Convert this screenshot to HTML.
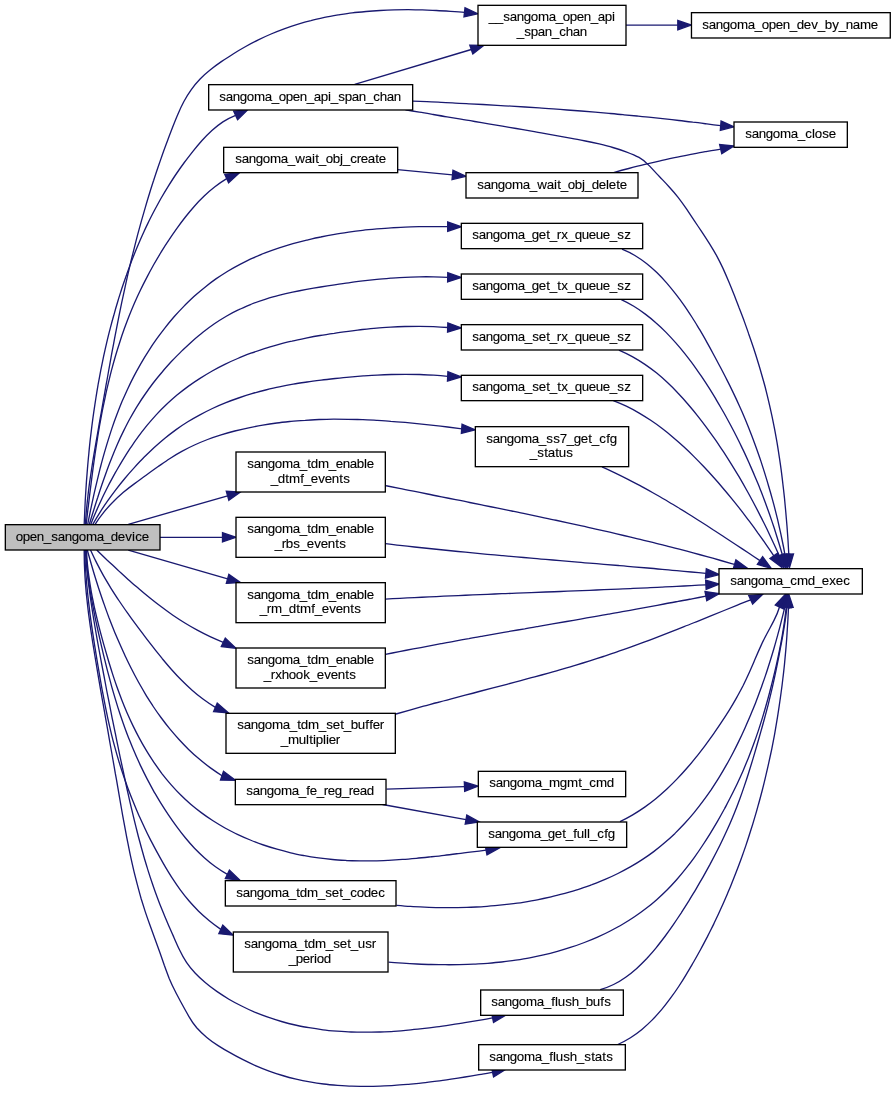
<!DOCTYPE html>
<html><head><meta charset="utf-8"><title>open_sangoma_device call graph</title>
<style>html,body{margin:0;padding:0;background:#fff;}body{width:896px;height:1093px;overflow:hidden;}svg{display:block;}text{font-family:"Liberation Sans",sans-serif;font-size:13.33px;fill:#000;stroke:#000;stroke-width:0.12px;text-anchor:start;}</style></head><body>
<svg width="896" height="1093" viewBox="0 0 896 1093">
<rect x="0" y="0" width="896" height="1093" fill="#fff"/>
<g fill="none" stroke="#191970" stroke-width="1.33">
<path d="M85.4,524.3C85.7,519.6 86.0,514.9 86.4,510.3C86.9,505.6 87.3,501.0 87.9,496.3C88.4,491.6 89.0,487.0 89.6,482.4C90.3,477.7 91.0,473.1 91.7,468.5C92.4,463.8 93.1,459.2 93.9,454.6C94.7,450.0 95.5,445.3 96.3,440.7C97.1,436.1 97.9,431.5 98.7,426.9C99.5,422.3 100.3,417.7 101.2,413.0C102.0,408.4 102.8,403.8 103.6,399.2C104.4,394.6 105.2,390.0 106.0,385.4C106.9,380.8 107.7,376.2 108.5,371.5C109.3,366.9 110.2,362.3 111.0,357.7C111.8,353.1 112.7,348.5 113.6,343.9C114.4,339.3 115.3,334.7 116.2,330.1C117.1,325.5 118.0,320.9 118.9,316.3C119.8,311.7 120.8,307.1 121.7,302.6C122.7,298.0 123.7,293.4 124.7,288.8C125.7,284.2 126.7,279.7 127.7,275.1C128.8,270.5 129.9,266.0 130.9,261.4C132.0,256.8 133.2,252.3 134.3,247.8C135.5,243.2 136.6,238.7 137.8,234.1C139.0,229.6 140.3,225.1 141.5,220.6C142.8,216.1 144.1,211.6 145.4,207.1C146.7,202.6 148.0,198.1 149.4,193.7C150.8,189.2 152.2,184.7 153.7,180.3C155.1,175.8 156.6,171.4 158.1,167.0C159.6,162.6 161.2,158.1 162.7,153.7C164.3,149.3 165.9,144.9 167.6,140.5C169.2,136.1 170.9,131.7 172.6,127.3C174.3,122.9 176.0,118.5 177.9,114.2C179.7,109.9 181.7,105.6 183.9,101.5C186.2,97.4 188.6,93.5 191.3,89.7C193.9,85.9 196.9,82.3 200.1,79.0C203.2,75.7 206.7,72.6 210.4,69.7C214.0,66.8 217.8,64.1 221.7,61.4C225.6,58.8 229.5,56.2 233.5,53.7C237.5,51.2 241.6,48.8 245.7,46.5C249.8,44.2 254.0,42.0 258.3,39.9C262.5,37.8 266.8,35.8 271.1,34.0C275.4,32.1 279.7,30.4 284.1,28.8C288.5,27.2 292.9,25.7 297.4,24.4C301.9,23.0 306.3,21.7 310.9,20.6C315.4,19.4 319.9,18.4 324.5,17.4C329.0,16.5 333.6,15.7 338.2,14.9C342.9,14.2 347.5,13.5 352.1,12.9C356.8,12.3 361.4,11.9 366.1,11.5C370.8,11.0 375.5,10.7 380.1,10.5C384.8,10.2 389.5,10.0 394.2,9.9C398.9,9.8 403.6,9.7 408.3,9.7C413.0,9.8 417.7,9.8 422.4,9.9C427.1,10.1 431.8,10.2 436.5,10.5C441.2,10.7 445.9,11.0 450.5,11.3C455.2,11.6 459.9,11.9 464.5,12.3"/>
<path d="M84.2,524.3C84.4,519.6 84.6,514.9 84.8,510.3C85.0,505.6 85.2,500.9 85.5,496.2C85.8,491.5 86.1,486.8 86.4,482.1C86.8,477.4 87.1,472.7 87.5,468.1C87.9,463.4 88.3,458.7 88.8,454.0C89.2,449.3 89.7,444.6 90.2,439.9C90.8,435.3 91.3,430.6 91.9,425.9C92.5,421.2 93.1,416.6 93.8,411.9C94.5,407.3 95.2,402.6 95.9,398.0C96.6,393.3 97.4,388.7 98.2,384.0C99.1,379.4 99.9,374.8 100.8,370.2C101.7,365.5 102.7,360.9 103.6,356.3C104.6,351.7 105.7,347.2 106.7,342.6C107.8,338.0 108.9,333.4 110.1,328.9C111.3,324.3 112.5,319.8 113.8,315.3C115.0,310.7 116.3,306.2 117.7,301.7C119.0,297.2 120.5,292.8 121.9,288.3C123.4,283.8 124.9,279.4 126.5,275.0C128.0,270.5 129.7,266.1 131.3,261.7C133.0,257.3 134.8,253.0 136.6,248.6C138.3,244.3 140.2,240.0 142.1,235.7C144.1,231.4 146.0,227.1 148.1,222.9C150.1,218.7 152.3,214.5 154.5,210.3C156.7,206.2 158.9,202.1 161.2,198.0C163.6,193.9 166.0,189.9 168.5,185.9C171.0,181.9 173.5,177.9 176.2,174.0C178.8,170.1 181.5,166.3 184.3,162.5C187.1,158.7 190.0,155.0 192.9,151.3C195.9,147.6 198.9,144.0 202.0,140.5C205.2,137.0 208.4,133.7 211.9,130.5C215.4,127.4 219.0,124.5 222.9,121.9C226.9,119.4 231.1,117.2 235.6,115.4"/>
<path d="M86.2,524.3C86.7,519.6 87.3,514.9 87.8,510.2C88.4,505.5 89.0,500.8 89.5,496.1C90.1,491.4 90.7,486.6 91.3,481.9C91.9,477.2 92.5,472.5 93.1,467.8C93.8,463.1 94.4,458.4 95.1,453.7C95.8,449.0 96.5,444.3 97.3,439.6C98.0,434.9 98.8,430.2 99.6,425.5C100.5,420.8 101.3,416.2 102.2,411.5C103.1,406.9 104.1,402.2 105.1,397.6C106.0,392.9 107.1,388.3 108.2,383.7C109.3,379.1 110.4,374.5 111.6,369.9C112.8,365.4 114.1,360.8 115.4,356.3C116.7,351.7 118.1,347.2 119.6,342.7C121.0,338.2 122.5,333.7 124.1,329.3C125.7,324.8 127.4,320.4 129.1,316.0C130.9,311.5 132.7,307.2 134.6,302.8C136.5,298.5 138.5,294.1 140.6,289.8C142.6,285.5 144.8,281.3 147.0,277.1C149.2,272.8 151.5,268.6 153.8,264.5C156.2,260.4 158.6,256.3 161.1,252.2C163.6,248.1 166.1,244.1 168.8,240.2C171.4,236.2 174.1,232.3 176.9,228.4C179.6,224.6 182.4,220.8 185.4,217.0C188.3,213.3 191.3,209.7 194.4,206.2C197.5,202.6 200.8,199.2 204.2,196.0C207.6,192.7 211.1,189.6 214.9,186.7C218.6,183.8 222.6,181.1 226.7,178.6"/>
<path d="M87.7,524.3C88.6,519.6 89.6,515.0 90.5,510.4C91.5,505.7 92.5,501.1 93.5,496.4C94.5,491.8 95.6,487.2 96.7,482.6C97.8,478.0 98.9,473.4 100.0,468.8C101.2,464.3 102.4,459.7 103.7,455.1C105.0,450.6 106.3,446.1 107.7,441.6C109.1,437.1 110.5,432.6 112.0,428.1C113.5,423.7 115.1,419.2 116.8,414.8C118.5,410.4 120.2,406.0 122.0,401.6C123.9,397.3 125.8,393.0 127.8,388.7C129.8,384.4 131.9,380.1 134.1,375.9C136.3,371.6 138.6,367.5 141.0,363.3C143.4,359.2 145.9,355.1 148.5,351.1C151.0,347.1 153.7,343.1 156.5,339.2C159.2,335.3 162.1,331.5 165.0,327.8C168.0,324.1 171.0,320.4 174.1,316.8C177.2,313.3 180.5,309.8 183.8,306.4C187.1,303.0 190.5,299.8 193.9,296.6C197.4,293.4 201.0,290.3 204.7,287.4C208.3,284.5 212.1,281.6 215.9,278.9C219.8,276.2 223.7,273.7 227.7,271.2C231.7,268.8 235.8,266.5 240.0,264.3C244.2,262.2 248.4,260.1 252.7,258.2C257.0,256.2 261.4,254.4 265.8,252.7C270.2,251.0 274.7,249.4 279.2,247.9C283.8,246.4 288.3,245.0 292.9,243.7C297.5,242.4 302.1,241.2 306.7,240.1C311.4,239.0 316.0,237.9 320.7,237.0C325.3,236.0 330.0,235.1 334.6,234.3C339.3,233.5 344.0,232.8 348.7,232.1C353.4,231.4 358.0,230.8 362.7,230.3C367.4,229.7 372.1,229.3 376.8,228.9C381.5,228.5 386.2,228.1 391.0,227.8C395.7,227.5 400.4,227.3 405.1,227.1C409.8,226.9 414.6,226.8 419.3,226.7C424.0,226.6 428.7,226.5 433.5,226.6C438.2,226.6 443.0,226.6 447.7,226.7"/>
<path d="M89.3,524.3C90.7,519.8 92.1,515.3 93.5,510.8C94.9,506.3 96.3,501.8 97.8,497.3C99.2,492.7 100.7,488.2 102.2,483.8C103.8,479.3 105.4,474.8 107.0,470.3C108.6,465.9 110.3,461.5 112.1,457.1C113.8,452.7 115.6,448.3 117.5,444.0C119.4,439.6 121.4,435.3 123.5,431.1C125.6,426.9 127.7,422.7 130.0,418.5C132.3,414.4 134.6,410.3 137.1,406.3C139.6,402.3 142.2,398.3 144.9,394.5C147.6,390.6 150.3,386.8 153.2,383.0C156.1,379.3 159.1,375.6 162.2,372.0C165.2,368.3 168.4,364.8 171.6,361.3C174.9,357.9 178.2,354.5 181.6,351.1C185.0,347.8 188.5,344.6 192.0,341.4C195.6,338.3 199.2,335.2 202.9,332.3C206.7,329.3 210.5,326.5 214.4,323.8C218.2,321.1 222.2,318.6 226.3,316.2C230.4,313.9 234.5,311.7 238.8,309.7C243.0,307.6 247.4,305.8 251.7,304.0C256.1,302.3 260.6,300.7 265.1,299.3C269.6,297.9 274.1,296.5 278.7,295.4C283.3,294.2 287.9,293.1 292.6,292.1C297.2,291.2 301.9,290.3 306.5,289.4C311.2,288.6 315.9,287.8 320.6,287.0C325.3,286.3 329.9,285.5 334.6,284.8C339.3,284.1 344.0,283.4 348.7,282.8C353.4,282.1 358.1,281.5 362.8,280.9C367.4,280.4 372.1,279.9 376.8,279.4C381.5,278.9 386.2,278.5 390.9,278.1C395.7,277.8 400.4,277.5 405.1,277.3C409.8,277.0 414.5,276.9 419.2,276.8C424.0,276.7 428.7,276.7 433.5,276.8C438.2,276.9 442.9,277.0 447.7,277.3"/>
<path d="M90.8,524.3C92.5,519.9 94.3,515.6 96.2,511.3C98.1,506.9 100.1,502.6 102.1,498.3C104.1,494.0 106.3,489.8 108.4,485.5C110.6,481.3 112.9,477.1 115.2,472.9C117.6,468.8 120.0,464.6 122.4,460.6C124.9,456.5 127.5,452.4 130.1,448.4C132.8,444.5 135.5,440.5 138.3,436.7C141.1,432.8 144.0,429.1 147.0,425.4C150.1,421.7 153.2,418.1 156.4,414.6C159.6,411.2 163.0,407.8 166.4,404.6C169.8,401.3 173.4,398.2 177.0,395.1C180.7,392.1 184.4,389.2 188.2,386.4C192.1,383.6 196.0,380.9 200.0,378.4C204.0,375.8 208.0,373.4 212.2,371.0C216.3,368.7 220.5,366.5 224.8,364.4C229.0,362.3 233.3,360.3 237.7,358.5C242.1,356.6 246.5,354.9 250.9,353.2C255.4,351.6 259.9,350.1 264.4,348.6C268.9,347.2 273.5,345.9 278.1,344.6C282.7,343.4 287.3,342.2 292.0,341.2C296.6,340.1 301.3,339.1 306.0,338.1C310.6,337.2 315.3,336.3 320.0,335.5C324.7,334.7 329.4,334.0 334.2,333.3C338.9,332.5 343.6,331.9 348.3,331.3C353.0,330.6 357.7,330.1 362.4,329.5C367.1,329.0 371.8,328.5 376.6,328.1C381.3,327.7 386.0,327.4 390.7,327.1C395.4,326.8 400.2,326.6 404.9,326.5C409.6,326.3 414.4,326.3 419.1,326.3C423.9,326.3 428.6,326.4 433.4,326.6C438.1,326.8 442.9,327.1 447.7,327.5"/>
<path d="M92.8,524.3C95.1,520.2 97.5,516.2 100.0,512.3C102.5,508.3 105.1,504.4 107.8,500.6C110.5,496.8 113.3,493.0 116.1,489.3C119.0,485.5 121.9,481.9 125.0,478.2C128.0,474.6 131.1,471.1 134.3,467.6C137.5,464.1 140.7,460.6 144.0,457.3C147.4,453.9 150.8,450.6 154.2,447.4C157.7,444.3 161.3,441.2 164.9,438.2C168.6,435.2 172.3,432.4 176.1,429.6C179.9,426.9 183.8,424.3 187.8,421.8C191.7,419.3 195.8,417.0 199.9,414.8C204.0,412.6 208.2,410.5 212.4,408.5C216.7,406.5 221.0,404.6 225.3,402.9C229.7,401.1 234.1,399.5 238.5,398.0C243.0,396.4 247.4,395.0 251.9,393.7C256.5,392.3 261.0,391.1 265.6,390.0C270.1,388.9 274.7,387.8 279.3,386.9C283.9,385.9 288.5,385.0 293.2,384.2C297.8,383.4 302.5,382.7 307.1,382.0C311.8,381.3 316.5,380.7 321.2,380.1C325.8,379.5 330.5,379.0 335.2,378.5C339.9,378.0 344.6,377.5 349.3,377.1C353.9,376.7 358.6,376.3 363.3,375.9C368.0,375.6 372.6,375.3 377.3,375.1C382.0,374.8 386.7,374.6 391.4,374.5C396.0,374.4 400.7,374.3 405.4,374.3C410.1,374.3 414.8,374.4 419.5,374.5C424.2,374.7 428.9,374.9 433.6,375.2C438.3,375.5 443.0,375.9 447.7,376.4"/>
<path d="M95.1,524.3C97.7,520.2 100.5,516.3 103.5,512.6C106.5,508.9 109.6,505.3 113.0,502.0C116.3,498.6 119.8,495.4 123.4,492.3C127.0,489.3 130.7,486.4 134.6,483.6C138.4,480.8 142.2,478.0 146.1,475.2C150.0,472.4 153.9,469.6 157.8,466.8C161.7,464.1 165.6,461.3 169.6,458.7C173.6,456.1 177.6,453.7 181.8,451.4C186.0,449.1 190.2,446.9 194.5,445.0C198.8,443.0 203.2,441.2 207.6,439.5C212.1,437.8 216.6,436.3 221.1,434.9C225.7,433.5 230.2,432.2 234.8,431.0C239.4,429.8 244.1,428.7 248.7,427.8C253.4,426.8 258.1,425.9 262.8,425.1C267.4,424.3 272.1,423.6 276.8,423.0C281.5,422.4 286.3,421.9 291.0,421.4C295.7,420.9 300.4,420.6 305.2,420.3C309.9,419.9 314.7,419.7 319.4,419.5C324.2,419.4 328.9,419.3 333.7,419.2C338.4,419.2 343.2,419.2 348.0,419.3C352.7,419.3 357.5,419.5 362.3,419.6C367.0,419.8 371.8,420.0 376.6,420.3C381.3,420.6 386.1,420.9 390.8,421.3C395.6,421.6 400.4,422.0 405.1,422.4C409.8,422.9 414.6,423.3 419.3,423.8C424.1,424.3 428.8,424.8 433.5,425.3C438.2,425.9 442.9,426.4 447.6,427.0C452.3,427.6 457.0,428.2 461.7,428.8"/>
<path d="M128.30,524.30 L227.60,495.80"/>
<path d="M160.00,537.30 L222.50,537.30"/>
<path d="M128.30,550.20 L227.60,578.90"/>
<path d="M96.7,550.0C100.1,553.3 103.6,556.6 107.0,559.9C110.5,563.1 113.9,566.4 117.5,569.7C121.0,572.9 124.5,576.2 128.1,579.4C131.6,582.6 135.3,585.7 138.9,588.8C142.5,592.0 146.2,595.0 150.0,598.0C153.7,601.0 157.5,604.0 161.3,606.8C165.1,609.7 169.0,612.5 172.9,615.2C176.9,617.9 180.9,620.5 184.9,623.0C189.0,625.5 193.1,627.9 197.3,630.2C201.5,632.5 205.7,634.6 210.1,636.7C214.4,638.7 218.8,640.6 223.3,642.3"/>
<path d="M90.5,550.0C92.5,554.4 94.6,558.8 96.8,563.1C99.0,567.4 101.3,571.7 103.6,575.9C106.0,580.1 108.5,584.2 111.0,588.3C113.6,592.4 116.2,596.5 118.9,600.5C121.6,604.5 124.3,608.5 127.1,612.4C129.9,616.4 132.7,620.3 135.6,624.2C138.5,628.1 141.4,632.0 144.4,635.8C147.3,639.7 150.3,643.5 153.3,647.3C156.2,651.2 159.3,654.9 162.3,658.7C165.4,662.4 168.5,666.1 171.7,669.7C174.9,673.3 178.2,676.9 181.6,680.3C185.0,683.7 188.4,687.0 192.1,690.2C195.7,693.4 199.4,696.4 203.3,699.3C207.2,702.2 211.2,704.9 215.4,707.4"/>
<path d="M87.3,550.0C88.5,554.5 89.8,559.0 91.1,563.5C92.4,568.0 93.7,572.5 95.1,577.0C96.5,581.5 97.9,586.0 99.4,590.5C100.9,595.0 102.4,599.5 104.0,603.9C105.5,608.4 107.2,612.8 108.8,617.3C110.5,621.7 112.2,626.1 114.0,630.5C115.8,634.9 117.7,639.2 119.6,643.6C121.5,647.9 123.4,652.2 125.4,656.5C127.5,660.8 129.5,665.0 131.7,669.3C133.8,673.5 136.0,677.6 138.3,681.8C140.6,685.9 143.0,690.0 145.4,694.1C147.8,698.1 150.4,702.1 152.9,706.0C155.5,709.9 158.2,713.8 161.0,717.5C163.8,721.3 166.6,725.0 169.6,728.7C172.6,732.3 175.6,735.8 178.8,739.3C181.9,742.7 185.2,746.1 188.6,749.4C191.9,752.6 195.4,755.8 199.0,758.8C202.6,761.9 206.3,764.8 210.1,767.6C214.0,770.4 217.9,773.1 222.0,775.7"/>
<path d="M86.5,550.0C86.7,554.7 87.0,559.3 87.4,564.0C87.9,568.7 88.4,573.3 89.1,577.9C89.7,582.6 90.5,587.2 91.3,591.8C92.1,596.4 93.1,601.0 94.0,605.6C95.0,610.2 96.1,614.8 97.2,619.3C98.3,623.9 99.4,628.4 100.6,632.9C101.8,637.4 103.0,641.9 104.3,646.4C105.6,650.9 106.9,655.4 108.2,659.8C109.5,664.3 110.9,668.7 112.3,673.1C113.7,677.5 115.2,681.9 116.7,686.3C118.3,690.7 119.9,695.1 121.6,699.4C123.3,703.8 125.1,708.2 126.9,712.5C128.8,716.8 130.8,721.2 132.8,725.4C134.9,729.7 137.0,733.9 139.3,738.1C141.5,742.3 143.9,746.4 146.3,750.4C148.7,754.5 151.3,758.4 153.9,762.3C156.6,766.2 159.3,770.0 162.1,773.8C165.0,777.5 167.9,781.1 171.0,784.6C174.1,788.1 177.2,791.5 180.5,794.8C183.8,798.1 187.2,801.2 190.7,804.3C194.2,807.3 197.9,810.2 201.6,812.9C205.3,815.7 209.1,818.3 213.0,820.8C216.9,823.3 220.9,825.7 225.0,828.0C229.1,830.2 233.2,832.4 237.4,834.4C241.6,836.4 245.9,838.3 250.3,840.0C254.6,841.8 259.0,843.5 263.5,845.0C267.9,846.5 272.4,847.9 277.0,849.2C281.5,850.5 286.1,851.7 290.7,852.8C295.2,853.9 299.9,854.8 304.5,855.7C309.1,856.6 313.8,857.3 318.5,857.9C323.1,858.6 327.8,859.1 332.5,859.5C337.1,859.9 341.8,860.2 346.4,860.5C351.1,860.7 355.8,860.8 360.4,860.9C365.1,860.9 369.7,860.9 374.4,860.8C379.1,860.7 383.7,860.5 388.4,860.3C393.0,860.1 397.7,859.8 402.4,859.4C407.0,859.1 411.7,858.7 416.3,858.3C421.0,857.9 425.6,857.4 430.3,856.9C434.9,856.4 439.6,855.9 444.2,855.3C448.9,854.8 453.5,854.2 458.2,853.6C462.8,853.1 467.5,852.5 472.2,851.9C476.8,851.3 481.5,850.8 486.1,850.2"/>
<path d="M85.9,550.0C86.1,554.7 86.3,559.4 86.7,564.1C87.1,568.7 87.6,573.4 88.2,578.0C88.8,582.6 89.5,587.2 90.3,591.8C91.1,596.4 91.9,601.0 92.8,605.6C93.7,610.2 94.6,614.8 95.5,619.3C96.5,623.9 97.5,628.5 98.5,633.0C99.5,637.6 100.6,642.1 101.6,646.7C102.7,651.2 103.7,655.8 104.9,660.3C106.0,664.9 107.1,669.4 108.3,673.9C109.5,678.4 110.7,682.9 111.9,687.4C113.2,691.9 114.5,696.4 115.9,700.9C117.2,705.4 118.6,709.8 120.1,714.3C121.6,718.7 123.1,723.1 124.7,727.5C126.3,731.9 127.9,736.3 129.7,740.6C131.4,745.0 133.2,749.3 135.1,753.6C136.9,757.9 138.9,762.1 140.9,766.4C142.9,770.6 145.0,774.8 147.1,778.9C149.3,783.1 151.5,787.2 153.8,791.3C156.2,795.4 158.5,799.4 161.0,803.4C163.5,807.4 166.0,811.3 168.6,815.2C171.2,819.1 173.9,822.9 176.7,826.7C179.5,830.5 182.3,834.2 185.3,837.8C188.3,841.4 191.3,844.9 194.5,848.3C197.7,851.6 201.1,854.9 204.6,858.0C208.0,861.1 211.7,864.0 215.5,866.7C219.3,869.4 223.2,872.0 227.4,874.3"/>
<path d="M84.7,550.0C84.8,554.8 85.0,559.5 85.3,564.3C85.5,569.1 85.9,573.8 86.3,578.5C86.6,583.3 87.1,588.0 87.6,592.8C88.0,597.5 88.6,602.2 89.2,607.0C89.7,611.7 90.3,616.4 91.0,621.1C91.7,625.9 92.3,630.6 93.1,635.3C93.8,640.0 94.5,644.7 95.3,649.4C96.0,654.1 96.8,658.8 97.6,663.5C98.4,668.2 99.2,672.9 100.0,677.6C100.8,682.3 101.6,687.0 102.5,691.7C103.4,696.3 104.3,701.0 105.2,705.7C106.1,710.4 107.1,715.0 108.1,719.7C109.1,724.3 110.2,728.9 111.3,733.6C112.4,738.2 113.6,742.8 114.9,747.4C116.1,752.0 117.4,756.5 118.8,761.1C120.2,765.7 121.6,770.2 123.2,774.7C124.7,779.2 126.3,783.7 127.9,788.2C129.6,792.7 131.3,797.1 133.1,801.5C134.9,806.0 136.7,810.4 138.6,814.7C140.6,819.1 142.5,823.4 144.6,827.7C146.6,832.1 148.7,836.3 150.9,840.6C153.1,844.8 155.3,849.1 157.6,853.2C159.9,857.4 162.2,861.6 164.6,865.7C167.1,869.8 169.5,873.9 172.1,877.9C174.7,881.9 177.3,885.8 180.1,889.6C182.9,893.4 185.8,897.2 188.9,900.8C192.0,904.4 195.2,907.8 198.6,911.2C202.0,914.5 205.6,917.6 209.3,920.7C213.0,923.7 216.9,926.6 220.8,929.4"/>
<path d="M85.3,550.0C85.6,554.7 86.0,559.5 86.4,564.2C86.9,568.9 87.4,573.6 87.9,578.3C88.4,583.0 89.0,587.7 89.7,592.4C90.3,597.1 91.0,601.8 91.7,606.5C92.4,611.2 93.1,615.8 93.9,620.5C94.7,625.2 95.5,629.9 96.3,634.5C97.1,639.2 98.0,643.9 98.8,648.5C99.7,653.2 100.5,657.9 101.4,662.5C102.3,667.2 103.2,671.9 104.1,676.5C105.0,681.2 105.8,685.8 106.7,690.5C107.6,695.1 108.6,699.8 109.5,704.4C110.4,709.1 111.3,713.7 112.2,718.4C113.2,723.0 114.1,727.6 115.1,732.3C116.0,736.9 116.9,741.6 117.9,746.2C118.9,750.9 119.8,755.5 120.8,760.1C121.8,764.8 122.8,769.4 123.8,774.0C124.8,778.7 125.8,783.3 126.8,788.0C127.8,792.6 128.9,797.2 129.9,801.8C131.0,806.5 132.1,811.1 133.2,815.7C134.3,820.3 135.4,824.9 136.6,829.5C137.7,834.1 138.9,838.7 140.2,843.3C141.4,847.9 142.7,852.4 144.0,857.0C145.3,861.5 146.7,866.0 148.1,870.6C149.5,875.1 151.0,879.6 152.5,884.0C154.0,888.5 155.6,893.0 157.3,897.4C158.9,901.8 160.6,906.2 162.4,910.6C164.2,915.0 166.1,919.4 167.9,923.8C169.8,928.1 171.7,932.5 173.7,936.9C175.6,941.3 177.5,945.7 179.6,950.0C181.7,954.4 183.9,958.5 186.5,962.4C189.1,966.3 192.1,969.9 195.3,973.3C198.5,976.7 201.9,979.8 205.5,982.8C209.1,985.9 212.9,988.7 216.8,991.4C220.7,994.1 224.8,996.7 228.9,999.2C233.0,1001.6 237.3,1003.9 241.6,1006.0C245.9,1008.2 250.2,1010.2 254.6,1012.1C259.1,1013.9 263.5,1015.6 268.0,1017.2C272.5,1018.8 277.0,1020.2 281.5,1021.5C286.0,1022.8 290.6,1024.0 295.2,1025.0C299.8,1026.0 304.4,1027.0 309.0,1027.7C313.6,1028.5 318.3,1029.2 323.0,1029.8C327.6,1030.4 332.3,1030.8 337.0,1031.2C341.7,1031.5 346.4,1031.8 351.1,1032.0C355.9,1032.2 360.6,1032.2 365.3,1032.2C370.1,1032.2 374.8,1032.1 379.6,1032.0C384.3,1031.8 389.1,1031.6 393.8,1031.3C398.6,1031.0 403.4,1030.6 408.1,1030.1C412.9,1029.7 417.6,1029.2 422.3,1028.7C427.1,1028.2 431.8,1027.6 436.6,1026.9C441.3,1026.3 446.0,1025.6 450.7,1024.9C455.4,1024.2 460.1,1023.5 464.8,1022.7C469.4,1022.0 474.1,1021.2 478.7,1020.4C483.4,1019.6 488.0,1018.7 492.6,1017.9"/>
<path d="M84.2,550.0C84.2,554.7 84.3,559.5 84.4,564.2C84.6,568.9 84.8,573.6 85.1,578.3C85.4,583.0 85.8,587.7 86.2,592.4C86.7,597.1 87.2,601.8 87.7,606.5C88.2,611.1 88.8,615.8 89.5,620.5C90.1,625.2 90.8,629.8 91.5,634.5C92.2,639.2 92.9,643.8 93.7,648.5C94.4,653.1 95.2,657.8 96.0,662.4C96.8,667.1 97.5,671.7 98.3,676.4C99.1,681.0 99.9,685.7 100.7,690.3C101.5,695.0 102.3,699.6 103.2,704.3C104.0,708.9 104.8,713.5 105.6,718.2C106.4,722.8 107.3,727.5 108.1,732.1C108.9,736.7 109.7,741.4 110.5,746.0C111.4,750.7 112.2,755.3 113.0,760.0C113.8,764.6 114.6,769.3 115.4,773.9C116.3,778.5 117.1,783.2 117.9,787.8C118.7,792.5 119.5,797.1 120.3,801.8C121.1,806.4 121.9,811.1 122.7,815.7C123.6,820.4 124.4,825.0 125.3,829.7C126.1,834.3 127.0,838.9 128.0,843.6C128.9,848.2 129.8,852.8 130.8,857.4C131.8,862.0 132.9,866.6 133.9,871.2C135.0,875.7 136.2,880.3 137.4,884.9C138.6,889.4 139.8,893.9 141.1,898.5C142.5,903.0 143.9,907.5 145.3,911.9C146.8,916.4 148.4,920.9 150.0,925.3C151.6,929.8 153.2,934.2 154.8,938.6C156.5,943.1 158.1,947.5 159.7,951.9C161.3,956.4 162.8,960.8 164.3,965.3C165.9,969.7 167.5,974.1 169.2,978.5C171.0,982.8 173.0,987.1 175.2,991.3C177.3,995.5 179.6,999.7 181.8,1003.8C184.1,1008.0 186.4,1012.2 188.8,1016.3C191.1,1020.3 193.7,1024.2 196.7,1027.8C199.8,1031.3 203.2,1034.5 206.8,1037.4C210.4,1040.4 214.2,1043.1 218.1,1045.6C222.1,1048.2 226.2,1050.6 230.4,1052.9C234.5,1055.3 238.7,1057.5 243.0,1059.7C247.3,1061.9 251.6,1063.9 256.0,1065.9C260.3,1067.8 264.7,1069.5 269.1,1071.1C273.6,1072.8 278.0,1074.2 282.5,1075.5C287.0,1076.9 291.6,1078.1 296.1,1079.1C300.7,1080.2 305.2,1081.1 309.8,1081.9C314.5,1082.7 319.1,1083.4 323.7,1084.0C328.4,1084.6 333.0,1085.0 337.7,1085.4C342.4,1085.7 347.1,1086.0 351.8,1086.2C356.5,1086.3 361.2,1086.4 365.9,1086.4C370.7,1086.4 375.4,1086.3 380.1,1086.1C384.9,1085.9 389.6,1085.7 394.4,1085.4C399.1,1085.1 403.8,1084.7 408.6,1084.3C413.3,1083.8 418.0,1083.4 422.8,1082.8C427.5,1082.3 432.2,1081.7 436.9,1081.1C441.6,1080.5 446.3,1079.8 451.0,1079.1C455.7,1078.4 460.3,1077.7 465.0,1077.0C469.6,1076.2 474.3,1075.5 478.9,1074.7C483.5,1074.0 488.0,1073.2 492.6,1072.4"/>
<path d="M354.70,84.40 L471.30,49.50"/>
<path d="M412.9,101.1C417.6,101.3 422.3,101.5 426.9,101.7C431.6,101.9 436.3,102.1 441.0,102.4C445.6,102.6 450.3,102.8 455.0,103.1C459.7,103.3 464.3,103.5 469.0,103.8C473.7,104.0 478.4,104.3 483.0,104.5C487.7,104.8 492.4,105.0 497.0,105.3C501.7,105.6 506.4,105.9 511.1,106.1C515.7,106.4 520.4,106.7 525.1,107.0C529.7,107.3 534.4,107.6 539.1,107.9C543.8,108.3 548.4,108.6 553.1,108.9C557.8,109.3 562.4,109.6 567.1,110.0C571.8,110.3 576.4,110.7 581.1,111.0C585.7,111.4 590.4,111.8 595.1,112.2C599.7,112.6 604.4,113.0 609.1,113.4C613.7,113.8 618.4,114.2 623.0,114.7C627.7,115.1 632.4,115.6 637.0,116.0C641.7,116.5 646.3,117.0 651.0,117.4C655.6,117.9 660.3,118.4 664.9,118.9C669.6,119.4 674.2,120.0 678.9,120.5C683.5,121.0 688.2,121.6 692.8,122.2C697.5,122.7 702.1,123.3 706.8,123.9C711.4,124.5 716.1,125.1 720.7,125.7"/>
<path d="M405.4,109.8C410.0,110.6 414.7,111.4 419.3,112.2C423.9,112.9 428.5,113.7 433.2,114.5C437.8,115.3 442.4,116.1 447.0,116.8C451.6,117.6 456.2,118.4 460.9,119.2C465.5,119.9 470.1,120.7 474.7,121.5C479.3,122.3 483.9,123.0 488.5,123.8C493.1,124.6 497.7,125.4 502.4,126.2C507.0,127.0 511.6,127.7 516.2,128.5C520.8,129.3 525.4,130.1 530.0,130.9C534.6,131.7 539.2,132.5 543.9,133.4C548.5,134.2 553.1,135.0 557.7,135.8C562.3,136.7 567.0,137.5 571.6,138.4C576.2,139.2 580.8,140.1 585.4,141.0C590.1,141.9 594.7,142.9 599.2,143.9C603.8,145.0 608.3,146.1 612.8,147.5C617.3,148.8 621.7,150.2 626.1,151.8C630.5,153.5 634.9,155.2 639.0,157.4C643.1,159.6 646.5,162.7 649.7,166.1C652.9,169.6 656.1,173.1 659.4,176.5C662.6,179.9 665.9,183.2 669.0,186.7C672.1,190.1 675.2,193.7 678.1,197.3C681.0,201.0 683.7,204.8 686.3,208.7C688.9,212.6 691.5,216.5 694.1,220.4C696.7,224.3 699.4,228.2 702.0,232.1C704.6,236.0 707.1,239.9 709.6,243.8C712.1,247.8 714.5,251.8 716.7,255.9C718.9,260.0 721.0,264.2 723.0,268.4C724.9,272.6 726.8,277.0 728.6,281.3C730.4,285.6 732.2,290.0 733.9,294.3C735.6,298.7 737.4,303.1 739.0,307.5C740.7,311.8 742.4,316.2 744.0,320.6C745.6,325.0 747.2,329.4 748.7,333.9C750.3,338.3 751.8,342.7 753.3,347.2C754.7,351.6 756.2,356.1 757.5,360.5C758.9,365.0 760.3,369.5 761.5,374.0C762.8,378.5 764.1,383.0 765.3,387.5C766.4,392.0 767.6,396.6 768.6,401.1C769.7,405.7 770.7,410.3 771.7,414.8C772.7,419.4 773.6,424.0 774.5,428.6C775.4,433.2 776.2,437.8 777.0,442.4C777.8,447.1 778.5,451.7 779.2,456.3C779.9,461.0 780.6,465.6 781.2,470.2C781.8,474.9 782.4,479.5 782.9,484.2C783.5,488.9 784.0,493.5 784.5,498.2C784.9,502.9 785.4,507.5 785.8,512.2C786.2,516.9 786.6,521.5 787.0,526.2C787.3,530.9 787.7,535.5 788.0,540.2C788.3,544.9 788.5,549.5 788.8,554.2"/>
<path d="M626.00,25.10 L677.80,25.10"/>
<path d="M397.50,169.60 L452.50,174.90"/>
<path d="M613.6,172.6C618.6,171.2 623.7,169.8 628.7,168.5C633.8,167.2 638.9,165.9 643.9,164.7C649.0,163.4 654.1,162.2 659.2,161.1C664.3,159.9 669.4,158.8 674.5,157.7C679.6,156.6 684.7,155.6 689.8,154.6C695.0,153.6 700.1,152.6 705.2,151.7C710.4,150.8 715.5,149.9 720.7,149.1"/>
<path d="M622.0,249.1C626.5,250.9 630.8,253.0 634.9,255.5C638.9,257.9 642.8,260.6 646.5,263.5C650.2,266.4 653.7,269.5 657.1,272.8C660.5,276.1 663.7,279.6 666.8,283.1C669.9,286.7 672.9,290.4 675.8,294.1C678.8,297.9 681.6,301.7 684.3,305.6C687.0,309.5 689.6,313.5 692.2,317.5C694.8,321.5 697.2,325.6 699.7,329.7C702.1,333.8 704.5,337.9 706.8,342.1C709.2,346.3 711.5,350.5 713.7,354.7C716.0,358.9 718.2,363.1 720.4,367.3C722.6,371.5 724.8,375.7 726.9,379.9C729.1,384.1 731.2,388.4 733.2,392.6C735.3,396.9 737.3,401.2 739.2,405.5C741.2,409.8 743.1,414.1 744.9,418.5C746.7,422.9 748.5,427.3 750.2,431.7C752.0,436.1 753.6,440.6 755.2,445.0C756.9,449.5 758.4,454.0 760.0,458.5C761.5,463.0 762.9,467.5 764.4,472.1C765.8,476.6 767.2,481.1 768.5,485.7C769.9,490.3 771.2,494.8 772.4,499.4C773.7,504.0 774.9,508.6 776.0,513.2C777.2,517.8 778.3,522.5 779.3,527.1C780.4,531.7 781.4,536.4 782.3,541.0C783.3,545.7 784.2,550.3 785.0,555.0"/>
<path d="M621.3,299.7C625.6,301.7 629.8,303.9 633.8,306.3C637.8,308.7 641.6,311.4 645.3,314.1C649.1,316.9 652.7,319.9 656.1,323.0C659.6,326.0 663.0,329.3 666.3,332.6C669.5,335.9 672.7,339.4 675.8,342.9C678.9,346.4 681.9,350.0 684.8,353.6C687.7,357.3 690.6,361.0 693.4,364.8C696.1,368.6 698.8,372.5 701.5,376.4C704.1,380.3 706.7,384.2 709.2,388.2C711.7,392.2 714.2,396.2 716.6,400.3C719.0,404.3 721.3,408.4 723.7,412.5C726.0,416.6 728.2,420.7 730.4,424.8C732.6,428.9 734.8,433.1 736.9,437.3C739.0,441.4 741.0,445.6 743.1,449.9C745.1,454.1 747.0,458.3 748.9,462.6C750.8,466.9 752.7,471.1 754.5,475.4C756.4,479.7 758.1,484.1 759.9,488.4C761.6,492.8 763.3,497.1 764.9,501.5C766.5,505.9 768.1,510.3 769.7,514.7C771.2,519.1 772.7,523.6 774.2,528.0C775.6,532.5 777.0,537.0 778.4,541.5C779.8,546.0 781.1,550.5 782.4,555.0"/>
<path d="M618.9,350.2C623.5,352.2 628.0,354.3 632.3,356.7C636.6,359.1 640.8,361.7 644.9,364.4C648.9,367.1 652.9,370.1 656.7,373.1C660.5,376.2 664.1,379.4 667.7,382.8C671.3,386.1 674.8,389.6 678.1,393.2C681.5,396.7 684.8,400.4 688.0,404.2C691.2,407.9 694.4,411.7 697.4,415.6C700.5,419.5 703.5,423.4 706.4,427.4C709.3,431.4 712.2,435.4 715.1,439.4C717.9,443.4 720.6,447.5 723.4,451.6C726.1,455.8 728.7,459.9 731.3,464.1C733.9,468.3 736.5,472.5 739.0,476.7C741.5,481.0 743.9,485.2 746.3,489.5C748.8,493.8 751.1,498.2 753.4,502.5C755.7,506.8 758.0,511.2 760.2,515.6C762.5,520.0 764.7,524.4 766.8,528.8C768.9,533.3 771.0,537.7 773.1,542.2C775.2,546.6 777.2,551.1 779.2,555.6"/>
<path d="M613.3,400.6C617.7,402.3 622.1,404.2 626.3,406.2C630.6,408.3 634.7,410.5 638.8,412.8C642.9,415.2 646.8,417.7 650.7,420.3C654.6,422.9 658.5,425.6 662.2,428.5C665.9,431.3 669.6,434.3 673.2,437.4C676.8,440.4 680.3,443.5 683.8,446.8C687.3,450.0 690.7,453.3 694.0,456.6C697.4,460.0 700.7,463.4 703.9,466.8C707.2,470.3 710.4,473.8 713.5,477.3C716.7,480.8 719.8,484.4 722.8,488.0C725.9,491.6 728.9,495.2 731.9,498.9C734.8,502.5 737.8,506.2 740.7,509.9C743.6,513.6 746.4,517.4 749.3,521.2C752.1,524.9 754.9,528.7 757.6,532.6C760.4,536.4 763.1,540.2 765.8,544.1C768.5,548.0 771.2,551.9 773.8,555.8"/>
<path d="M602.0,466.8C606.3,468.7 610.6,470.7 614.9,472.8C619.1,474.8 623.3,476.9 627.5,479.1C631.7,481.2 635.9,483.4 640.1,485.6C644.2,487.9 648.3,490.1 652.4,492.5C656.5,494.8 660.6,497.1 664.7,499.5C668.7,501.9 672.8,504.3 676.8,506.8C680.8,509.2 684.9,511.7 688.9,514.2C692.9,516.7 696.8,519.3 700.8,521.8C704.8,524.3 708.8,526.9 712.7,529.5C716.7,532.0 720.6,534.6 724.6,537.2C728.5,539.8 732.4,542.4 736.4,545.0C740.3,547.6 744.3,550.2 748.2,552.8C752.1,555.4 756.1,558.0 760.0,560.6"/>
<path d="M385.4,485.6C390.1,486.5 394.8,487.5 399.4,488.4C404.1,489.4 408.8,490.3 413.5,491.2C418.2,492.2 422.8,493.1 427.5,494.0C432.2,495.0 436.9,495.9 441.6,496.8C446.3,497.8 450.9,498.7 455.6,499.7C460.3,500.6 465.0,501.5 469.7,502.5C474.3,503.4 479.0,504.4 483.7,505.3C488.4,506.3 493.1,507.2 497.8,508.2C502.4,509.1 507.1,510.1 511.8,511.0C516.5,512.0 521.1,513.0 525.8,513.9C530.5,514.9 535.2,515.9 539.8,516.9C544.5,517.9 549.2,518.9 553.8,519.8C558.5,520.8 563.2,521.9 567.8,522.9C572.5,523.9 577.2,524.9 581.8,525.9C586.5,527.0 591.2,528.0 595.8,529.1C600.5,530.1 605.1,531.2 609.8,532.2C614.4,533.3 619.1,534.4 623.7,535.5C628.4,536.6 633.0,537.7 637.7,538.8C642.3,539.9 646.9,541.1 651.6,542.2C656.2,543.3 660.8,544.5 665.5,545.7C670.1,546.8 674.7,548.0 679.3,549.2C684.0,550.4 688.6,551.6 693.2,552.9C697.8,554.1 702.4,555.4 707.0,556.6C711.6,557.9 716.2,559.2 720.8,560.5C725.4,561.8 730.0,563.1 734.6,564.4"/>
<path d="M385.4,543.6C390.2,544.2 395.1,544.8 399.9,545.3C404.8,545.9 409.6,546.4 414.5,547.0C419.3,547.5 424.2,548.0 429.0,548.5C433.9,549.0 438.7,549.5 443.6,550.0C448.4,550.5 453.3,551.0 458.1,551.5C463.0,552.0 467.8,552.4 472.7,552.9C477.6,553.4 482.4,553.8 487.3,554.3C492.1,554.7 497.0,555.2 501.8,555.6C506.7,556.0 511.6,556.5 516.4,556.9C521.3,557.3 526.1,557.7 531.0,558.1C535.8,558.6 540.7,559.0 545.6,559.4C550.4,559.8 555.3,560.2 560.1,560.6C565.0,561.0 569.9,561.4 574.7,561.8C579.6,562.3 584.4,562.7 589.3,563.1C594.2,563.5 599.0,563.9 603.9,564.3C608.7,564.7 613.6,565.1 618.5,565.5C623.3,565.9 628.2,566.3 633.0,566.8C637.9,567.2 642.8,567.6 647.6,568.0C652.5,568.5 657.3,568.9 662.2,569.3C667.1,569.8 671.9,570.2 676.8,570.6C681.6,571.1 686.5,571.5 691.3,572.0C696.2,572.5 701.0,572.9 705.9,573.4"/>
<path d="M385.4,599.1C390.3,598.8 395.1,598.6 400.0,598.3C404.8,598.1 409.7,597.8 414.5,597.6C419.4,597.4 424.2,597.1 429.1,596.9C434.0,596.7 438.8,596.4 443.7,596.2C448.5,596.0 453.4,595.8 458.2,595.6C463.1,595.4 467.9,595.1 472.8,594.9C477.7,594.7 482.5,594.5 487.4,594.3C492.2,594.1 497.1,593.9 501.9,593.7C506.8,593.6 511.7,593.4 516.5,593.2C521.4,593.0 526.2,592.8 531.1,592.6C535.9,592.4 540.8,592.2 545.7,592.0C550.5,591.8 555.4,591.6 560.2,591.5C565.1,591.3 569.9,591.1 574.8,590.9C579.7,590.7 584.5,590.5 589.4,590.3C594.2,590.1 599.1,589.9 603.9,589.7C608.8,589.5 613.7,589.3 618.5,589.1C623.4,588.9 628.2,588.7 633.1,588.4C637.9,588.2 642.8,588.0 647.6,587.8C652.5,587.5 657.4,587.3 662.2,587.1C667.1,586.8 671.9,586.6 676.8,586.4C681.6,586.1 686.5,585.9 691.3,585.6C696.2,585.3 701.0,585.1 705.9,584.8"/>
<path d="M385.4,654.4C390.0,653.5 394.7,652.5 399.3,651.6C403.9,650.7 408.6,649.8 413.2,648.9C417.8,648.0 422.5,647.1 427.1,646.3C431.7,645.4 436.4,644.5 441.0,643.7C445.7,642.8 450.3,641.9 455.0,641.1C459.6,640.3 464.2,639.4 468.9,638.6C473.5,637.7 478.2,636.9 482.8,636.1C487.5,635.3 492.1,634.4 496.8,633.6C501.4,632.8 506.1,632.0 510.7,631.2C515.4,630.4 520.0,629.6 524.7,628.8C529.3,627.9 534.0,627.1 538.6,626.3C543.3,625.5 547.9,624.7 552.6,623.9C557.2,623.1 561.9,622.3 566.6,621.5C571.2,620.7 575.9,619.9 580.5,619.1C585.2,618.2 589.8,617.4 594.5,616.6C599.1,615.8 603.7,615.0 608.4,614.1C613.0,613.3 617.7,612.5 622.3,611.6C627.0,610.8 631.6,610.0 636.3,609.1C640.9,608.3 645.6,607.4 650.2,606.6C654.8,605.7 659.5,604.9 664.1,604.0C668.8,603.2 673.4,602.3 678.1,601.4C682.7,600.6 687.3,599.7 692.0,598.8C696.6,597.9 701.3,597.1 705.9,596.2"/>
<path d="M396.0,714.0C400.6,712.7 405.2,711.4 409.8,710.1C414.4,708.8 419.0,707.5 423.6,706.2C428.2,705.0 432.8,703.7 437.5,702.5C442.1,701.2 446.7,700.0 451.3,698.8C456.0,697.6 460.6,696.4 465.2,695.2C469.9,694.0 474.5,692.8 479.1,691.5C483.8,690.3 488.4,689.1 493.0,687.9C497.7,686.7 502.3,685.5 506.9,684.3C511.6,683.1 516.2,681.9 520.8,680.6C525.4,679.4 530.0,678.1 534.7,676.9C539.3,675.6 543.9,674.4 548.5,673.1C553.1,671.8 557.7,670.5 562.3,669.1C566.9,667.8 571.5,666.5 576.0,665.1C580.6,663.7 585.2,662.3 589.8,660.9C594.3,659.4 598.9,658.0 603.4,656.5C607.9,655.0 612.5,653.5 617.0,651.9C621.5,650.4 626.0,648.8 630.5,647.2C635.0,645.5 639.5,643.9 644.0,642.2C648.5,640.6 652.9,638.9 657.4,637.1C661.9,635.4 666.3,633.7 670.8,631.9C675.2,630.2 679.7,628.4 684.1,626.6C688.6,624.9 693.0,623.1 697.5,621.3C701.9,619.5 706.3,617.7 710.8,615.9C715.2,614.1 719.6,612.3 724.1,610.5C728.5,608.7 732.9,606.9 737.4,605.1C741.8,603.3 746.3,601.6 750.7,599.8"/>
<path d="M386.50,789.10 L464.50,786.70"/>
<path d="M382.50,804.50 L466.00,819.60"/>
<path d="M620.0,821.7C624.4,819.6 628.6,817.3 632.7,814.9C636.8,812.4 640.8,809.8 644.7,807.1C648.6,804.3 652.4,801.4 656.1,798.4C659.8,795.4 663.4,792.2 666.9,789.0C670.4,785.7 673.8,782.4 677.1,778.9C680.4,775.5 683.7,771.9 686.8,768.3C690.0,764.7 693.1,761.0 696.1,757.2C699.1,753.4 702.0,749.6 704.9,745.8C707.8,741.9 710.6,738.0 713.4,734.1C716.2,730.1 718.9,726.2 721.5,722.2C724.2,718.2 726.8,714.2 729.3,710.2C731.8,706.1 734.2,702.0 736.5,697.9C738.9,693.7 741.1,689.5 743.3,685.3C745.4,681.0 747.4,676.7 749.4,672.3C751.3,667.9 753.2,663.5 755.1,659.1C757.0,654.6 758.9,650.2 760.9,645.9C762.9,641.5 765.0,637.2 767.3,633.0C769.5,628.8 771.9,624.6 774.0,620.4C776.2,616.1 778.1,611.7 779.5,607.0"/>
<path d="M396.4,905.3C401.1,905.7 405.8,906.1 410.5,906.4C415.2,906.7 419.9,906.9 424.6,907.1C429.3,907.3 434.0,907.5 438.7,907.6C443.4,907.7 448.1,907.7 452.8,907.7C457.5,907.6 462.2,907.6 466.9,907.4C471.6,907.3 476.3,907.0 481.0,906.8C485.7,906.5 490.4,906.1 495.0,905.7C499.7,905.3 504.4,904.8 509.1,904.2C513.8,903.6 518.5,903.0 523.1,902.3C527.8,901.5 532.5,900.7 537.2,899.8C541.8,898.9 546.5,897.9 551.1,896.9C555.7,895.8 560.3,894.6 564.9,893.4C569.5,892.1 574.1,890.8 578.6,889.3C583.1,887.9 587.5,886.3 592.0,884.7C596.4,883.0 600.8,881.3 605.1,879.4C609.4,877.6 613.7,875.6 617.9,873.5C622.1,871.4 626.2,869.2 630.3,866.9C634.3,864.6 638.3,862.2 642.2,859.6C646.1,857.1 650.0,854.4 653.7,851.6C657.4,848.8 661.1,845.9 664.6,842.8C668.1,839.8 671.6,836.6 675.0,833.4C678.3,830.1 681.6,826.7 684.8,823.3C688.0,819.8 691.1,816.2 694.1,812.6C697.1,808.9 700.0,805.2 702.8,801.4C705.7,797.6 708.4,793.8 711.1,789.9C713.7,785.9 716.3,781.9 718.8,777.9C721.3,773.9 723.7,769.8 726.0,765.7C728.4,761.6 730.6,757.4 732.8,753.2C735.0,749.0 737.1,744.8 739.1,740.6C741.2,736.3 743.2,732.0 745.1,727.7C747.0,723.4 748.9,719.1 750.7,714.8C752.5,710.4 754.3,706.1 756.0,701.7C757.7,697.3 759.3,692.9 760.9,688.5C762.5,684.0 764.1,679.6 765.6,675.1C767.1,670.7 768.5,666.2 769.9,661.7C771.3,657.2 772.7,652.7 774.0,648.2C775.3,643.7 776.6,639.2 777.8,634.6C779.1,630.1 780.3,625.5 781.4,620.9C782.6,616.4 783.7,611.8 784.8,607.2"/>
<path d="M388.6,962.2C393.3,962.6 398.0,962.9 402.7,963.2C407.4,963.5 412.2,963.7 416.9,964.0C421.6,964.2 426.3,964.4 431.0,964.5C435.7,964.6 440.5,964.7 445.2,964.7C449.9,964.8 454.6,964.7 459.3,964.6C464.0,964.5 468.7,964.4 473.4,964.2C478.1,963.9 482.9,963.7 487.6,963.3C492.3,962.9 496.9,962.5 501.6,962.0C506.3,961.4 511.0,960.8 515.7,960.1C520.4,959.4 525.0,958.7 529.7,957.8C534.4,956.9 539.0,955.9 543.6,954.8C548.3,953.8 552.9,952.6 557.4,951.3C562.0,950.1 566.6,948.7 571.1,947.2C575.6,945.8 580.0,944.2 584.4,942.5C588.8,940.8 593.2,939.0 597.5,937.1C601.8,935.2 606.1,933.2 610.3,931.0C614.4,928.9 618.6,926.7 622.6,924.3C626.7,921.9 630.6,919.4 634.5,916.8C638.4,914.2 642.2,911.5 645.9,908.6C649.6,905.8 653.2,902.8 656.7,899.7C660.2,896.6 663.6,893.4 667.0,890.0C670.3,886.7 673.5,883.2 676.6,879.7C679.8,876.1 682.8,872.5 685.8,868.7C688.7,865.0 691.6,861.2 694.4,857.3C697.2,853.4 699.9,849.5 702.5,845.5C705.2,841.5 707.8,837.5 710.3,833.4C712.8,829.4 715.2,825.3 717.6,821.2C719.9,817.1 722.2,812.9 724.5,808.8C726.7,804.6 728.9,800.5 731.0,796.3C733.1,792.1 735.2,787.9 737.2,783.7C739.2,779.4 741.1,775.2 743.0,770.9C744.8,766.6 746.6,762.3 748.4,757.9C750.1,753.6 751.8,749.2 753.4,744.8C755.0,740.4 756.6,735.9 758.1,731.4C759.6,726.9 761.0,722.4 762.4,717.9C763.8,713.4 765.1,708.8 766.4,704.3C767.7,699.7 769.0,695.1 770.1,690.5C771.3,686.0 772.5,681.4 773.6,676.7C774.7,672.1 775.8,667.5 776.8,662.9C777.8,658.3 778.8,653.7 779.7,649.1C780.7,644.5 781.5,639.8 782.3,635.2C783.1,630.5 783.9,625.9 784.5,621.2C785.2,616.6 785.7,611.9 786.2,607.2"/>
<path d="M600.2,989.6C604.9,988.3 609.4,986.6 613.6,984.5C617.8,982.4 621.8,980.0 625.7,977.2C629.5,974.5 633.1,971.6 636.7,968.4C640.2,965.3 643.5,961.9 646.8,958.5C650.0,955.0 653.1,951.5 656.1,947.8C659.1,944.1 662.0,940.3 664.9,936.5C667.7,932.7 670.5,928.8 673.2,924.9C675.8,921.0 678.5,917.0 681.1,913.1C683.6,909.1 686.2,905.2 688.7,901.2C691.1,897.1 693.6,893.1 696.0,889.1C698.4,885.0 700.7,880.9 703.1,876.8C705.4,872.7 707.7,868.5 710.0,864.4C712.2,860.2 714.4,856.0 716.6,851.8C718.8,847.6 720.9,843.3 722.9,839.0C725.0,834.7 727.0,830.4 728.9,826.1C730.8,821.8 732.6,817.4 734.4,813.0C736.2,808.6 737.9,804.2 739.5,799.8C741.1,795.4 742.7,790.9 744.2,786.4C745.7,782.0 747.2,777.5 748.6,773.0C750.0,768.4 751.4,763.9 752.8,759.4C754.1,754.9 755.5,750.3 756.8,745.8C758.1,741.2 759.4,736.7 760.7,732.1C762.0,727.6 763.3,723.0 764.5,718.5C765.8,713.9 767.0,709.3 768.2,704.7C769.3,700.1 770.4,695.5 771.5,690.9C772.6,686.3 773.6,681.7 774.6,677.1C775.6,672.5 776.6,667.8 777.5,663.2C778.5,658.5 779.4,653.9 780.2,649.2C781.1,644.6 782.0,639.9 782.8,635.3C783.6,630.6 784.4,625.9 785.1,621.3C785.8,616.6 786.4,611.9 786.9,607.2"/>
<path d="M617.8,1044.5C622.3,1042.6 626.5,1040.3 630.5,1037.8C634.5,1035.2 638.3,1032.5 641.9,1029.5C645.5,1026.4 649.0,1023.2 652.3,1019.9C655.6,1016.5 658.7,1013.0 661.8,1009.4C664.8,1005.8 667.7,1002.0 670.5,998.2C673.3,994.4 676.1,990.5 678.7,986.5C681.3,982.5 683.9,978.4 686.3,974.3C688.8,970.3 691.2,966.1 693.6,962.0C696.0,957.8 698.3,953.7 700.6,949.5C702.9,945.3 705.1,941.1 707.3,936.9C709.4,932.6 711.6,928.4 713.7,924.1C715.7,919.8 717.8,915.5 719.7,911.2C721.7,906.9 723.7,902.5 725.5,898.2C727.4,893.8 729.3,889.5 731.1,885.1C732.8,880.7 734.6,876.3 736.3,871.8C738.0,867.4 739.7,863.0 741.3,858.5C742.9,854.0 744.5,849.6 746.0,845.1C747.5,840.6 749.0,836.1 750.4,831.5C751.9,827.0 753.3,822.5 754.6,817.9C756.0,813.4 757.3,808.8 758.5,804.2C759.8,799.7 761.0,795.1 762.2,790.5C763.4,785.9 764.5,781.3 765.6,776.6C766.7,772.0 767.8,767.4 768.8,762.7C769.8,758.1 770.8,753.4 771.8,748.8C772.7,744.1 773.6,739.4 774.5,734.8C775.3,730.1 776.1,725.4 776.9,720.7C777.7,716.0 778.4,711.3 779.1,706.6C779.8,701.9 780.5,697.2 781.1,692.5C781.8,687.8 782.4,683.0 782.9,678.3C783.5,673.6 784.0,668.9 784.5,664.1C784.9,659.4 785.4,654.7 785.8,649.9C786.2,645.2 786.6,640.5 786.9,635.7C787.2,631.0 787.5,626.3 787.8,621.5C788.1,616.8 788.3,612.0 788.5,607.3"/>
</g>
<g fill="#191970" stroke="#191970" stroke-width="1.33">
<polygon points="463.98,16.94 477.80,13.80 465.02,7.66 463.98,16.94"/>
<polygon points="237.55,119.65 247.60,109.90 233.65,111.15 237.55,119.65"/>
<polygon points="228.64,182.85 239.60,172.70 224.76,174.35 228.64,182.85"/>
<polygon points="447.70,231.37 461.30,226.70 447.70,222.03 447.70,231.37"/>
<polygon points="447.63,281.97 461.30,277.50 447.77,272.63 447.63,281.97"/>
<polygon points="447.56,332.17 461.30,327.90 447.84,322.83 447.56,332.17"/>
<polygon points="447.49,381.07 461.30,377.00 447.91,371.73 447.49,381.07"/>
<polygon points="461.36,433.46 475.20,429.80 462.04,424.14 461.36,433.46"/>
<polygon points="228.90,500.29 240.40,492.10 226.30,491.31 228.90,500.29"/>
<polygon points="222.50,541.97 236.00,537.30 222.50,532.63 222.50,541.97"/>
<polygon points="226.34,583.40 240.40,582.50 228.86,574.40 226.34,583.40"/>
<polygon points="221.31,646.52 236.00,648.30 225.29,638.08 221.31,646.52"/>
<polygon points="213.56,711.69 228.50,713.00 217.24,703.11 213.56,711.69"/>
<polygon points="220.49,780.12 235.50,780.30 223.51,771.28 220.49,780.12"/>
<polygon points="486.93,854.80 500.00,847.70 485.27,845.60 486.93,854.80"/>
<polygon points="225.39,878.52 239.80,880.20 229.41,870.08 225.39,878.52"/>
<polygon points="218.82,933.63 233.20,935.20 222.78,925.17 218.82,933.63"/>
<polygon points="493.54,1022.47 505.70,1015.20 491.66,1013.33 493.54,1022.47"/>
<polygon points="493.58,1076.97 505.20,1069.70 491.62,1067.83 493.58,1076.97"/>
<polygon points="472.79,53.93 483.80,45.30 469.81,45.07 472.79,53.93"/>
<polygon points="720.32,130.35 734.00,126.80 721.08,121.05 720.32,130.35"/>
<polygon points="784.13,554.40 789.40,568.00 793.47,554.00 784.13,554.40"/>
<polygon points="677.80,29.77 691.30,25.10 677.80,20.43 677.80,29.77"/>
<polygon points="452.02,179.55 466.00,176.30 452.98,170.25 452.02,179.55"/>
<polygon points="721.76,153.65 734.00,146.00 719.64,144.55 721.76,153.65"/>
<polygon points="780.40,555.81 787.30,568.00 789.60,554.19 780.40,555.81"/>
<polygon points="777.88,556.18 785.80,568.00 786.92,553.82 777.88,556.18"/>
<polygon points="774.84,557.29 784.00,568.00 783.56,553.91 774.84,557.29"/>
<polygon points="769.97,558.46 782.00,567.60 777.63,553.14 769.97,558.46"/>
<polygon points="757.37,564.46 771.00,568.10 762.63,556.74 757.37,564.46"/>
<polygon points="733.29,568.88 747.30,568.10 735.91,559.92 733.29,568.88"/>
<polygon points="705.48,578.05 719.30,574.60 706.32,568.75 705.48,578.05"/>
<polygon points="706.14,589.46 719.30,584.10 705.66,580.14 706.14,589.46"/>
<polygon points="706.79,600.78 719.30,593.60 705.01,591.62 706.79,600.78"/>
<polygon points="752.65,604.04 762.90,594.20 748.75,595.56 752.65,604.04"/>
<polygon points="464.67,791.37 478.00,786.20 464.33,782.03 464.67,791.37"/>
<polygon points="465.20,824.20 479.30,821.90 466.80,815.00 465.20,824.20"/>
<polygon points="783.72,609.01 785.70,594.00 775.28,604.99 783.72,609.01"/>
<polygon points="789.42,607.90 786.80,594.00 780.18,606.50 789.42,607.90"/>
<polygon points="790.85,607.66 787.50,594.00 781.55,606.74 790.85,607.66"/>
<polygon points="791.56,607.55 787.90,594.00 782.24,606.85 791.56,607.55"/>
<polygon points="793.17,607.37 788.70,594.00 783.83,607.23 793.17,607.37"/>
</g>
<g stroke="#000" stroke-width="1.33">
<rect x="5.34" y="524.67" width="154.67" height="25.33" fill="#bfbfbf"/>
<rect x="208.67" y="84.66" width="204.00" height="25.33" fill="#fff"/>
<rect x="223.67" y="147.34" width="174.00" height="25.33" fill="#fff"/>
<rect x="236.00" y="452.00" width="149.33" height="40.00" fill="#fff"/>
<rect x="236.00" y="517.33" width="149.33" height="40.00" fill="#fff"/>
<rect x="236.00" y="582.67" width="149.33" height="40.00" fill="#fff"/>
<rect x="236.00" y="648.00" width="149.33" height="40.00" fill="#fff"/>
<rect x="226.00" y="713.33" width="169.33" height="40.00" fill="#fff"/>
<rect x="235.34" y="779.34" width="150.67" height="25.33" fill="#fff"/>
<rect x="225.34" y="880.67" width="170.67" height="25.33" fill="#fff"/>
<rect x="233.34" y="932.00" width="154.67" height="40.00" fill="#fff"/>
<rect x="478.00" y="5.33" width="148.00" height="40.00" fill="#fff"/>
<rect x="466.00" y="172.67" width="172.00" height="25.33" fill="#fff"/>
<rect x="461.33" y="223.34" width="181.33" height="25.33" fill="#fff"/>
<rect x="461.33" y="274.00" width="181.33" height="25.33" fill="#fff"/>
<rect x="461.33" y="324.66" width="181.33" height="25.33" fill="#fff"/>
<rect x="461.33" y="375.33" width="181.33" height="25.33" fill="#fff"/>
<rect x="475.33" y="426.67" width="153.33" height="40.00" fill="#fff"/>
<rect x="478.33" y="771.34" width="147.33" height="25.33" fill="#fff"/>
<rect x="477.33" y="822.00" width="149.33" height="25.33" fill="#fff"/>
<rect x="480.67" y="990.00" width="142.67" height="25.33" fill="#fff"/>
<rect x="478.67" y="1044.66" width="146.67" height="25.33" fill="#fff"/>
<rect x="691.47" y="12.66" width="198.80" height="25.33" fill="#fff"/>
<rect x="734.00" y="122.00" width="113.33" height="25.33" fill="#fff"/>
<rect x="719.00" y="568.67" width="143.33" height="25.33" fill="#fff"/>
</g>
<g style="will-change:opacity">
<text x="15.79 22.79 29.79 36.79 43.79 51.17 57.79 64.79 71.79 78.79 85.95 96.79 103.79 110.79 117.79 125.17 132.02 135.17 141.79" y="541.00">open_sangoma_device</text>
<text x="219.17 225.79 232.79 239.79 246.79 253.95 264.79 271.79 278.79 285.79 292.79 299.79 306.79 313.79 320.79 328.02 330.79 338.17 344.79 351.79 358.79 365.79 373.17 379.79 386.79 393.79" y="101.00">sangoma_open_api_span_chan</text>
<text x="235.17 241.79 248.79 255.79 262.79 269.95 280.79 287.79 295.19 304.79 312.02 315.15 318.79 325.79 332.79 340.02 342.79 350.17 356.78 360.79 367.79 375.15 378.79" y="163.00">sangoma_wait_obj_create</text>
<text x="247.17 253.79 260.79 267.79 274.79 281.95 292.79 299.79 307.15 310.79 317.95 328.79 335.79 342.79 349.79 356.79 364.02 366.79" y="468.00">sangoma_tdm_enable</text>
<text x="270.79 277.79 285.15 288.95 300.15 303.79 310.79 318.17 324.79 331.79 339.15 343.17" y="483.00">_dtmf_events</text>
<text x="247.17 253.79 260.79 267.79 274.79 281.95 292.79 299.79 307.15 310.79 317.95 328.79 335.79 342.79 349.79 356.79 364.02 366.79" y="533.00">sangoma_tdm_enable</text>
<text x="274.79 281.78 285.79 293.17 299.79 306.79 314.17 320.79 327.79 335.15 339.17" y="548.00">_rbs_events</text>
<text x="247.17 253.79 260.79 267.79 274.79 281.95 292.79 299.79 307.15 310.79 317.95 328.79 335.79 342.79 349.79 356.79 364.02 366.79" y="599.00">sangoma_tdm_enable</text>
<text x="259.79 266.78 270.95 281.79 288.79 296.15 299.95 311.15 314.79 321.79 329.17 335.79 342.79 350.15 354.17" y="613.00">_rm_dtmf_events</text>
<text x="247.17 253.79 260.79 267.79 274.79 281.95 292.79 299.79 307.15 310.79 317.95 328.79 335.79 342.79 349.79 356.79 364.02 366.79" y="664.00">sangoma_tdm_enable</text>
<text x="263.79 270.78 275.17 281.79 288.79 295.79 303.17 309.79 316.79 324.17 330.79 337.79 345.15 349.17" y="679.00">_rxhook_events</text>
<text x="237.17 243.79 250.79 257.79 264.79 271.95 282.79 289.79 297.15 300.79 307.95 318.79 326.17 332.79 340.15 343.79 350.79 357.79 365.15 369.15 372.79 379.78" y="729.00">sangoma_tdm_set_buffer</text>
<text x="280.79 287.95 298.79 306.02 309.15 313.02 315.79 323.02 326.02 328.79 335.78" y="744.00">_multiplier</text>
<text x="246.17 252.79 259.79 266.79 273.79 280.95 291.79 298.79 306.15 309.79 316.79 323.78 327.79 334.79 341.79 348.78 352.79 359.79 366.79" y="795.00">sangoma_fe_reg_read</text>
<text x="236.17 242.79 249.79 256.79 263.79 270.95 281.79 288.79 296.15 299.79 306.95 317.79 325.17 331.79 339.15 342.79 350.17 356.79 363.79 370.79 378.17" y="897.00">sangoma_tdm_set_codec</text>
<text x="244.17 250.79 257.79 264.79 271.79 278.95 289.79 296.79 304.15 307.79 314.95 325.79 333.17 339.79 347.15 350.79 357.79 365.17 371.78" y="948.00">sangoma_tdm_set_usr</text>
<text x="288.79 295.79 302.79 309.78 314.02 316.79 323.79" y="963.00">_period</text>
<text x="488.79 495.79 503.17 509.79 516.79 523.79 530.79 537.95 548.79 555.79 562.79 569.79 576.79 583.79 590.79 597.79 604.79 612.02" y="21.00">__sangoma_open_api</text>
<text x="516.79 524.17 530.79 537.79 544.79 551.79 559.17 565.79 572.79 579.79" y="36.00">_span_chan</text>
<text x="477.17 483.79 490.79 497.79 504.79 511.95 522.79 529.79 537.19 546.79 554.02 557.15 560.79 567.79 574.79 582.02 584.79 591.79 598.79 606.02 608.79 616.15 619.79" y="189.00">sangoma_wait_obj_delete</text>
<text x="472.17 478.79 485.79 492.79 499.79 506.95 517.79 524.79 531.79 538.79 546.15 549.79 556.78 561.17 567.79 574.79 581.79 588.79 595.79 602.79 609.79 617.17 624.17" y="239.00">sangoma_get_rx_queue_sz</text>
<text x="472.17 478.79 485.79 492.79 499.79 506.95 517.79 524.79 531.79 538.79 546.15 549.79 557.15 561.17 567.79 574.79 581.79 588.79 595.79 602.79 609.79 617.17 624.17" y="290.00">sangoma_get_tx_queue_sz</text>
<text x="472.17 478.79 485.79 492.79 499.79 506.95 517.79 524.79 532.17 538.79 546.15 549.79 556.78 561.17 567.79 574.79 581.79 588.79 595.79 602.79 609.79 617.17 624.17" y="341.00">sangoma_set_rx_queue_sz</text>
<text x="472.17 478.79 485.79 492.79 499.79 506.95 517.79 524.79 532.17 538.79 546.15 549.79 557.15 561.17 567.79 574.79 581.79 588.79 595.79 602.79 609.79 617.17 624.17" y="391.00">sangoma_set_tx_queue_sz</text>
<text x="486.17 492.79 499.79 506.79 513.79 520.95 531.79 538.79 546.17 553.17 559.79 566.79 573.79 580.79 588.15 591.79 599.17 606.15 609.79" y="443.00">sangoma_ss7_get_cfg</text>
<text x="529.79 537.17 544.15 547.79 555.15 558.79 566.17" y="457.00">_status</text>
<text x="489.17 495.79 502.79 509.79 516.79 523.95 534.79 541.79 548.95 559.79 566.95 578.15 581.79 589.17 595.95 606.79" y="787.00">sangoma_mgmt_cmd</text>
<text x="488.17 494.79 501.79 508.79 515.79 522.95 533.79 540.79 547.79 554.79 562.15 565.79 573.15 576.79 584.02 587.02 589.79 597.17 604.15 607.79" y="838.00">sangoma_get_full_cfg</text>
<text x="491.17 497.79 504.79 511.79 518.79 525.95 536.79 543.79 551.15 555.02 557.79 565.17 571.79 578.79 585.79 592.79 600.15 604.17" y="1006.00">sangoma_flush_bufs</text>
<text x="489.17 495.79 502.79 509.79 516.79 523.95 534.79 541.79 549.15 553.02 555.79 563.17 569.79 576.79 584.17 591.15 594.79 602.15 606.17" y="1061.00">sangoma_flush_stats</text>
<text x="702.17 708.79 715.79 722.79 729.79 736.95 747.79 754.79 761.79 768.79 775.79 782.79 789.79 796.79 803.79 811.17 817.79 824.79 832.17 838.79 845.79 852.79 859.95 870.79" y="29.00">sangoma_open_dev_by_name</text>
<text x="745.17 751.79 758.79 765.79 772.79 779.95 790.79 797.79 805.17 812.02 814.79 822.17 828.79" y="138.00">sangoma_close</text>
<text x="730.17 736.79 743.79 750.79 757.79 764.95 775.79 782.79 790.17 796.95 807.79 814.79 821.79 829.17 835.79 843.17" y="585.00">sangoma_cmd_exec</text>
</g>
</svg></body></html>
